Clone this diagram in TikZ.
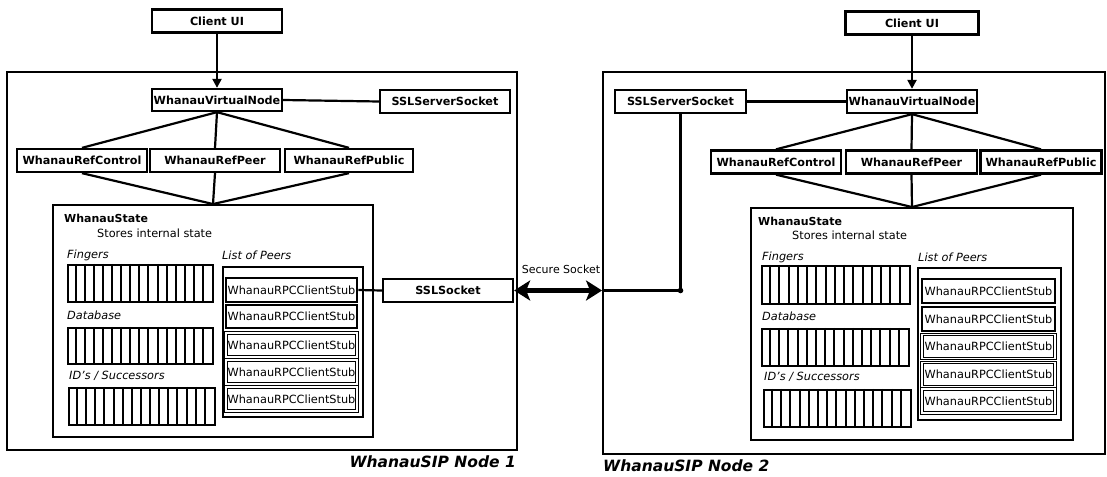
\documentclass[tikz,border=0pt]{standalone}
\usepackage{fontspec}
\setmainfont{DejaVu Sans}
\usetikzlibrary{arrows.meta}
\tikzset{
  box/.style={draw, line width=2.3pt, inner sep=0pt, minimum height=23pt,
    font=\bfseries\fontsize{11.2}{12}\selectfont},
  frame/.style={draw, line width=1.9pt, inner sep=0pt},
  stubA/.style={draw, line width=2.6pt, inner sep=0pt, minimum height=24pt,
    font=\fontsize{11.3}{12}\selectfont},
  stubB/.style={draw, double, double distance=1.2pt, line width=1.2pt, inner sep=0pt,
    minimum height=24pt, font=\fontsize{11.3}{12}\selectfont},
  barbox/.style={draw, line width=2.2pt, inner sep=0pt},
  stripe/.style={line width=2pt},
  conn/.style={line width=2.2pt},
  lbl/.style={inner sep=0pt, anchor=west, font=\fontsize{11.3}{13}\selectfont},
  ilbl/.style={lbl, font=\itshape\fontsize{11.3}{13}\selectfont},
  blbl/.style={lbl, font=\bfseries\fontsize{11}{13}\selectfont},
  nodelbl/.style={inner sep=0pt, font=\bfseries\itshape\fontsize{15.5}{17}\selectfont},
}
\newcommand\mystripes[2]{%
  \foreach \i in {1,...,15}{%
    \draw[stripe] ([xshift={\i*#2/16*1pt}]#1.north west) -- ([xshift={\i*#2/16*1pt}]#1.south west);}}
\begin{document}
\begin{tikzpicture}[x=1pt,y=-1pt]
\useasboundingbox (0,0) rectangle (1107,476);

% ================= Node 1 =================
\node[frame, minimum width=510pt, minimum height=378pt] (outer1) at (262,261) {};
\node[box, minimum width=130pt] (cui1) at (217,21) {Client UI};
\node[box, minimum width=130pt, minimum height=22pt] (vn1) at (217,100) {WhanauVirtualNode};
\node[box, minimum width=130pt] (sss1) at (445,101.5) {SSLServerSocket};
\node[box, minimum width=130pt] (rc1) at (82,160.5) {WhanauRefControl};
\node[box, minimum width=130pt] (rp1) at (215,160.5) {WhanauRefPeer};
\node[box, minimum width=128pt] (rpub1) at (349,160.5) {WhanauRefPublic};
\node[frame, minimum width=320pt, minimum height=232pt] (ws1) at (213,321) {};
\node[blbl] (wst1) at (64,218) {WhanauState};
\node[lbl] (sti1) at (97,233) {Stores internal state};
\node[ilbl] (fl1) at (67,255) {Fingers};
\node[ilbl] (dl1) at (67,315) {Database};
\node[ilbl] (il1) at (69,376) {ID's / Successors};
\node[ilbl] (ll1) at (222,255) {List of Peers};
\node[barbox, minimum width=145pt, minimum height=37pt] (fing1) at (140.5,283.5) {};
\node[barbox, minimum width=145pt, minimum height=36pt] (db1) at (140.5,346) {};
\node[barbox, minimum width=146pt, minimum height=37pt] (ids1) at (142,406.5) {};
\mystripes{fing1}{145}
\mystripes{db1}{145}
\mystripes{ids1}{146}
\node[frame, minimum width=140pt, minimum height=150pt] (list1) at (293,342) {};
\node[stubA, minimum width=131pt] (s11) at (291.5,290) {WhanauRPCClientStub};
\node[stubA, minimum width=131pt, minimum height=23pt] (s12) at (291.5,316.5) {WhanauRPCClientStub};
\node[stubB, minimum width=131pt] (s13) at (291.5,345) {WhanauRPCClientStub};
\node[stubB, minimum width=131pt] (s14) at (291.5,372) {WhanauRPCClientStub};
\node[stubB, minimum width=131pt] (s15) at (291.5,399) {WhanauRPCClientStub};
\node[box, minimum width=130pt] (ssl1) at (448,290.5) {SSLSocket};
\node[nodelbl, anchor=east] (n1lbl) at (516,462) {WhanauSIP Node 1};

\draw[conn, -{Triangle[length=9pt,width=9pt]}] (cui1) -- (vn1);
\draw[conn] (vn1.east) -- (sss1.west);
\draw[conn] (vn1.south) -- (rc1.north);
\draw[conn] (vn1.south) -- (rp1.north);
\draw[conn] (vn1.south) -- (rpub1.north);
\draw[conn] (rc1.south) -- (ws1.north);
\draw[conn] (rp1.south) -- (ws1.north);
\draw[conn] (rpub1.south) -- (ws1.north);
\draw[conn] (s11.east) -- (ssl1.west);

% ================= Node 2 =================
\node[frame, minimum width=502pt, minimum height=382pt] (outer2) at (854,263) {};
\node[box, minimum width=133pt] (cui2) at (912,23) {Client UI};
\node[box, minimum width=130pt] (vn2) at (912,101.5) {WhanauVirtualNode};
\node[box, minimum width=131pt] (sss2) at (680.5,101.5) {SSLServerSocket};
\node[box, minimum width=130pt] (rc2) at (776,162) {WhanauRefControl};
\node[box, minimum width=131pt] (rp2) at (911.5,162) {WhanauRefPeer};
\node[box, minimum width=121pt] (rpub2) at (1041,162) {WhanauRefPublic};
\node[frame, minimum width=322pt, minimum height=232pt] (ws2) at (912,324) {};
\node[blbl] (wst2) at (758,221) {WhanauState};
\node[lbl] (sti2) at (792,235) {Stores internal state};
\node[ilbl] (fl2) at (762,257) {Fingers};
\node[ilbl] (dl2) at (762,316) {Database};
\node[ilbl] (il2) at (764,377) {ID's / Successors};
\node[ilbl] (ll2) at (918,257) {List of Peers};
\node[barbox, minimum width=148pt, minimum height=38pt] (fing2) at (836,285) {};
\node[barbox, minimum width=147pt, minimum height=37pt] (db2) at (835.5,347.5) {};
\node[barbox, minimum width=147pt, minimum height=37pt] (ids2) at (837.5,408.5) {};
\mystripes{fing2}{148}
\mystripes{db2}{147}
\mystripes{ids2}{147}
\node[frame, minimum width=143pt, minimum height=152pt] (list2) at (989.5,344) {};
\node[stubA, minimum width=133pt] (s21) at (988.5,291) {WhanauRPCClientStub};
\node[stubA, minimum width=133pt] (s22) at (988.5,319) {WhanauRPCClientStub};
\node[stubB, minimum width=133pt] (s23) at (988.5,346.5) {WhanauRPCClientStub};
\node[stubB, minimum width=133pt] (s24) at (988.5,374.5) {WhanauRPCClientStub};
\node[stubB, minimum width=133pt] (s25) at (988.5,401) {WhanauRPCClientStub};
\node[nodelbl, anchor=west] (n2lbl) at (603,465.5) {WhanauSIP Node 2};

\draw[conn, -{Triangle[length=9pt,width=9pt]}] (cui2) -- (vn2);
\draw[conn] (sss2.east) -- (vn2.west);
\draw[conn] (vn2.south) -- (rc2.north);
\draw[conn] (vn2.south) -- (rp2.north);
\draw[conn] (vn2.south) -- (rpub2.north);
\draw[conn] (rc2.south) -- (ws2.north);
\draw[conn] (rp2.south) -- (ws2.north);
\draw[conn] (rpub2.south) -- (ws2.north);

% ================= Secure socket =================
\coordinate (in2) at (ssl1.east -| outer2.west);
\coordinate (dot2) at (ssl1.east -| sss2.south);
\draw[line width=5pt, {Stealth[length=16pt,width=20pt,inset=4pt]}-{Stealth[length=16pt,width=20pt,inset=4pt]}]
  (ssl1.east) -- (in2);
\node[inner sep=0pt, font=\fontsize{11}{13}\selectfont] (sslbl) at (561,269) {Secure Socket};
\draw[conn] (sss2.south) -- (dot2);
\draw[conn] (in2) -- (dot2);
\fill (dot2) circle (2.8pt);
\end{tikzpicture}
\end{document}
